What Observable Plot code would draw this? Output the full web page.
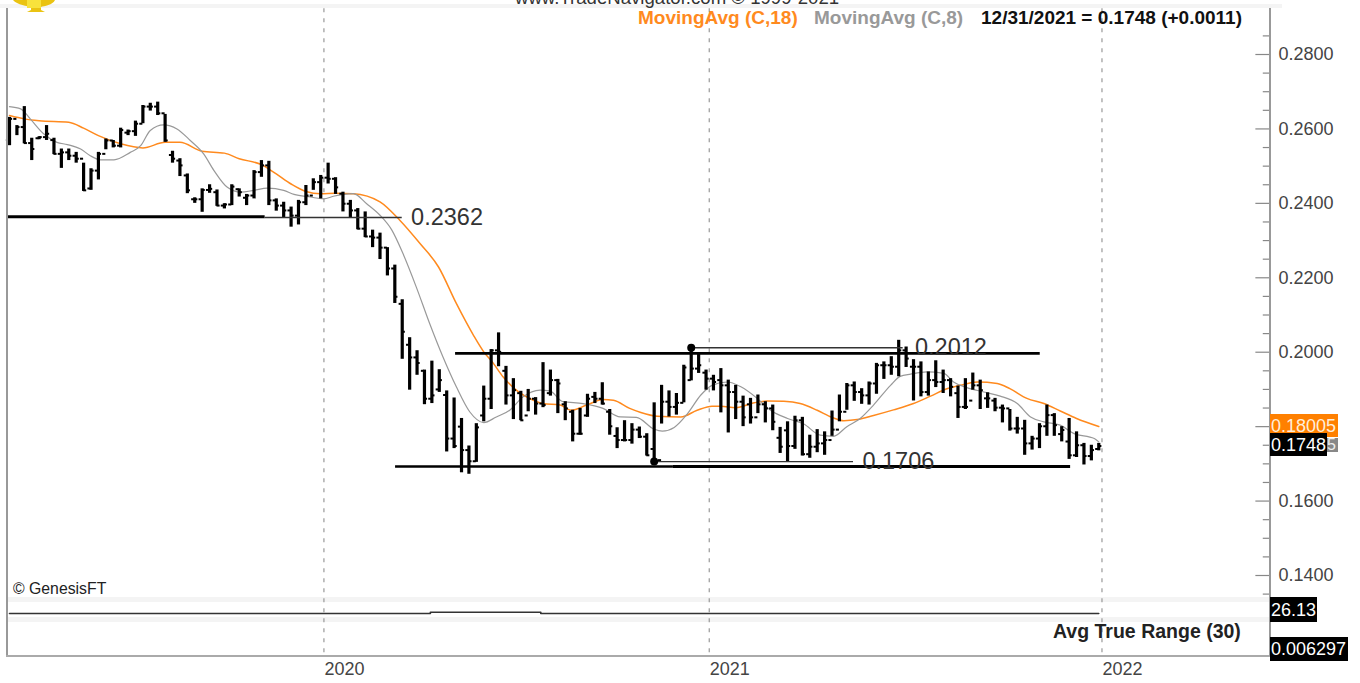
<!DOCTYPE html>
<html><head><meta charset="utf-8">
<script src="https://cdn.jsdelivr.net/npm/d3@7"></script>
<script src="https://cdn.jsdelivr.net/npm/@observablehq/plot@0.6"></script>
<style>
html,body{margin:0;padding:0;background:#fff;overflow:hidden}
#stage{position:relative;width:1360px;height:683px;overflow:hidden;font-family:"Liberation Sans",Arial,sans-serif}
#stage svg{position:absolute;left:0;background:transparent}
.t{position:absolute;white-space:nowrap;line-height:1}
.b{position:absolute}
</style></head><body><div id="stage"></div>
<script>
// Weekly bars, indexed from the first bar on the chart (index 147 = 12/31/2021)
const highs=[.2631,.2609,.2660,.2575,.2579,.2609,.2575,.2546,.2546,.2537,.2508,.2493,.2537,.2573,.2569,.2602,.2597,.2621,.2663,.2669,.2672,.2639,.2540,.2520,.2479,.2415,.2439,.2450,.2436,.2399,.2450,.2439,.2424,.2488,.2515,.2513,.2412,.2403,.2390,.2408,.2448,.2466,.2475,.2508,.2469,
.2430,.2408,.2386,.2377,.2328,.2320,.2281,.2234,.2141,.2039,.2004,.1952,.1976,.1953,.1896,.1877,.1822,.1748,.1808,.1909,.2007,.2052,.1962,.1929,.1895,.1900,.1878,.1972,.1952,.1927,.1867,.1844,.1849,.1887,.1892,.1918,.1846,.1797,.1816,.1808,.1799,.1781,.1864,
.1911,.1896,.1889,.1965,.2012,.1995,.1952,.1938,.1956,.1925,.1911,.1882,.1876,.1885,.1867,.1858,.1798,.1813,.1828,.1825,.1777,.1792,.1786,.1842,.1885,.1916,.1920,.1902,.1920,.1970,
.1974,.1988,.2032,.2014,.1980,.1974,.1947,.1977,.1952,.1929,.1909,.1929,.1944,.1925,.1891,.1876,.1858,.1846,.1825,.1817,.1774,.1808,.1858,.1835,.1800,.1822,.1786,.1755,.1750,.1755];
const lows=[.2555,.2582,.2560,.2515,.2571,.2569,.2531,.2494,.2515,.2508,.2432,.2435,.2463,.2544,.2549,.2549,.2582,.2580,.2614,.2648,.2636,.2564,.2508,.2472,.2426,.2400,.2376,.2427,.2392,.2385,.2394,.2417,.2394,.2412,.2470,.2394,.2379,.2361,.2336,.2342,.2394,.2435,.2412,.2452,.2424,
.2377,.2361,.2329,.2308,.2281,.2249,.2205,.2131,.1981,.1898,.1938,.1859,.1862,.1892,.1732,.1741,.1676,.1672,.1704,.1813,.1846,.1961,.1858,.1819,.1816,.1840,.1831,.1851,.1882,.1835,.1816,.1759,.1777,.1825,.1862,.1858,.1777,.1741,.1759,.1753,.1768,.1721,.1701,
.1807,.1826,.1831,.1864,.1923,.1943,.1898,.1896,.1837,.1783,.1819,.1800,.1807,.1835,.1810,.1789,.1728,.1706,.1739,.1721,.1715,.1730,.1723,.1774,.1813,.1844,.1868,.1860,.1858,.1887,
.1927,.1938,.1934,.1959,.1869,.1880,.1882,.1905,.1889,.1880,.1822,.1846,.1898,.1846,.1849,.1840,.1810,.1788,.1780,.1723,.1737,.1741,.1774,.1774,.1759,.1712,.1717,.1697,.1708,.1735];
const closes=[.2627,.2605,.2562,.2546,.2578,.2587,.2533,.2537,.2528,.2520,.2435,.2488,.2533,.2569,.2555,.2597,.2594,.2614,.2660,.2660,.2642,.2569,.2520,.2502,.2435,.2411,.2436,.2439,.2394,.2397,.2445,.2430,.2421,.2484,.2502,.2408,.2394,.2381,.2367,.2403,.2421,.2457,.2469,.2466,.2443,
.2399,.2381,.2332,.2311,.2308,.2281,.2225,.2149,.2055,.1986,.1971,.1875,.1884,.1925,.1768,.1748,.1737,.1707,.1798,.1875,.2005,.2001,.1884,.1898,.1817,.1875,.1862,.1858,.1925,.1916,.1849,.1781,.1781,.1875,.1875,.1862,.1801,.1764,.1764,.1792,.1773,.1723,.1710,
.1867,.1853,.1864,.1959,.1956,.1965,.1929,.1920,.1911,.1893,.1867,.1825,.1825,.1860,.1849,.1813,.1746,.1748,.1817,.1726,.1746,.1755,.1764,.1792,.1840,.1911,.1893,.1884,.1916,.1965,
.1965,.1961,.2005,.1983,.1961,.1893,.1925,.1920,.1925,.1907,.1853,.1853,.1911,.1898,.1876,.1851,.1849,.1795,.1795,.1755,.1768,.1801,.1831,.1804,.1791,.1723,.1750,.1721,.1737,.1748];
const opens=[.2570,.2627,.2605,.2562,.2575,.2578,.2570,.2533,.2537,.2528,.2520,.2440,.2488,.2533,.2569,.2555,.2590,.2594,.2614,.2660,.2660,.2642,.2530,.2515,.2475,.2411,.2411,.2436,.2430,.2394,.2397,.2438,.2415,.2421,.2484,.2502,.2408,.2394,.2381,.2367,.2403,.2421,.2457,.2469,.2466,
.2426,.2399,.2381,.2332,.2311,.2308,.2281,.2225,.2130,.2020,.1986,.1950,.1875,.1900,.1885,.1768,.1800,.1737,.1707,.1830,.1875,.2005,.1950,.1884,.1890,.1830,.1875,.1862,.1890,.1925,.1860,.1840,.1781,.1830,.1880,.1875,.1840,.1775,.1764,.1764,.1792,.1773,.1740,
.1710,.1867,.1853,.1864,.1925,.1956,.1945,.1929,.1925,.1911,.1893,.1867,.1860,.1825,.1860,.1849,.1770,.1790,.1748,.1817,.1726,.1746,.1755,.1764,.1792,.1840,.1911,.1893,.1884,.1916,
.1965,.1965,.1961,.2005,.1961,.1961,.1893,.1925,.1920,.1925,.1890,.1853,.1870,.1911,.1876,.1870,.1851,.1849,.1795,.1795,.1755,.1768,.1801,.1831,.1780,.1760,.1723,.1750,.1721,.1740];

const ma18Idx=[0,2,4,8,10,12,15,18,21,23,26,29,31,34,36,38,40,42,44,46.4,50,52.7,55.4,57.9,60.3,62.6,64,65.3,66.6,68.4,70.7,72,74.3,75.8,77.9,80.1,81.5,83.7,85.2,87.4,90.6,92.8,94.8,96,98,100.5,102.2,104.5,106.7,109,111,112.6,114.4,116.6,119.3,122,124.3,126.5,128.3,130.6,133.3,135,137.3,139.6,141.8,144,147];
const ma18Val=[.2636,.2627,.2622,.2618,.2602,.2582,.2560,.2549,.2564,.2564,.2540,.2535,.2520,.2504,.2479,.2452,.2432,.2426,.2427,.2426,.2404,.2354,.2292,.2229,.2131,.2046,.2001,.1970,.1934,.1898,.1871,.1862,.1858,.1844,.1858,.1873,.1871,.1849,.1838,.1828,.1826,.1844,.1855,.1855,.1851,.1864,.1869,.1868,.1862,.1844,.1825,.1816,.1819,.1830,.1845,.1862,.1882,.1902,.1911,.1920,.1916,.1902,.1876,.1862,.1842,.1822,.18005];
const ma8Idx=[0,1.5,2.8,4.6,6.4,7.8,9.6,10.9,12.3,14.1,16.3,17.7,19,20.8,22.6,24.4,26.2,27.6,29.4,31.2,33,34.8,37,38.4,40.6,42.4,43.7,46.4,48.2,50,51.6,53.1,54.9,56.7,58.5,60.3,62.1,64,65.7,67.5,69.3,71.6,72.9,74.7,77.4,80.1,82.4,84.6,87,88.1,89.7,91.5,93.3,94.8,96.9,98.7,100.9,102.7,105,107.2,109.4,111.2,113,114.8,116.6,118.9,120.2,121.6,123.8,126.1,127.4,129.2,131.5,133.7,136,137.8,139.6,141.8,143.6,146.4,147];
const ma8Val=[.2660,.2654,.2627,.2587,.2564,.2558,.2546,.2528,.2517,.2517,.2537,.2555,.2596,.2611,.2600,.2569,.2533,.2488,.2443,.2430,.2435,.2441,.2435,.2424,.2417,.2412,.2419,.2426,.2399,.2368,.2328,.2265,.2175,.2077,.1987,.1907,.1840,.1811,.1826,.1844,.1880,.1898,.1896,.1867,.1862,.1849,.1826,.1825,.1793,.1788,.1798,.1835,.1885,.1911,.1920,.1907,.1876,.1844,.1822,.1807,.1777,.1774,.1800,.1822,.1858,.1911,.1935,.1941,.1947,.1943,.1920,.1905,.1893,.1882,.1862,.1826,.1813,.1804,.1782,.1768,.1759];

// Drawn support / resistance lines: [x index start, x index end, price, line width]
const levelLines=[
  [-0.4,34.5,.2364,2.8],[34.5,53,.2362,1.4],
  [60.2,139.1,.1997,2.8],[92,120.6,.2012,1.4],
  [52.1,89.6,.1693,2.6],[89.6,143.2,.1693,3],[87,113.9,.1706,1.4]
];
const levelLabels=[["0.2362",54.2,.2362],["0.2012",122.2,.2013],["0.1706",115.1,.1707]];
const anchorDots=[[87,.1706],[92,.2012]];

const yearBreaks=[42.5,94.5,147.5];
const yearLabels=["2020","2021","2022"];
const majorPrices=[.14,.16,.18,.20,.22,.24,.26,.28];
const labelledPrices=[.14,.16,.20,.22,.24,.26,.28]; // 0.1800 sits behind the orange tag
const minorPrices=[.135,.145,.15,.155,.165,.17,.175,.185,.19,.195,.205,.21,.215,.225,.23,.235,.245,.25,.255,.265,.27,.275,.285];

// Avg True Range strip
const atrIdx=[0,56.8,56.8,71.7,71.7,147];
const atrVal=[.0063,.0063,3.5,3.5,.0063,.0063];

const bars=highs.map((h,i)=>({i,h,l:lows[i],c:closes[i],o:opens[i]}));
const toXY=(xs,ys)=>xs.map((x,k)=>({x,y:ys[k]}));
const xScale={type:"linear",domain:[0,147],range:[9,1098.27]};
const INK="#444";

const main=Plot.plot({
  width:1360,height:683,marginLeft:6,marginRight:90,marginTop:8,marginBottom:27,
  style:{background:"transparent",fontFamily:'"Liberation Sans",Arial,sans-serif'},
  x:xScale,
  y:{type:"linear",domain:[.14,.28],range:[575,54]},
  marks:[
    Plot.ruleX(yearBreaks,{dx:-.5,y1:.2923,y2:.1185,stroke:"#999",strokeWidth:1.2,strokeDasharray:"4,6"}),
    Plot.ruleY(majorPrices,{x1:168.2,x2:170.1,stroke:"#888",strokeWidth:1.2}),
    Plot.ruleY(minorPrices,{x1:169.2,x2:170.1,stroke:"#888",strokeWidth:1.2}),
    Plot.line(toXY(ma18Idx,ma18Val),{x:"x",y:"y",stroke:"#ff8a1e",strokeWidth:1.5,curve:"monotone-x"}),
    Plot.line(toXY(ma8Idx,ma8Val),{x:"x",y:"y",stroke:"#999",strokeWidth:1.2,curve:"monotone-x"}),
    Plot.ruleX(bars,{x:"i",y1:"l",y2:"h",stroke:"#000",strokeWidth:3.2}),
    Plot.ruleY(bars,{y:"c",x1:"i",x2:d=>d.i+.42,stroke:"#000",strokeWidth:2}),
    Plot.ruleY(bars,{y:"o",x1:d=>d.i-.42,x2:"i",stroke:"#000",strokeWidth:2}),
    ...levelLines.map(([a,b,p,w])=>Plot.ruleY([p],{x1:a,x2:b,stroke:w>2?"#000":"#333",strokeWidth:w})),
    Plot.dot(anchorDots,{x:d=>d[0],y:d=>d[1],r:4,fill:"#000"}),
    Plot.text(levelLabels,{x:d=>d[1],y:d=>d[2],text:d=>d[0],textAnchor:"start",fontSize:23.5,fill:"#333"}),
    Plot.axisX({ticks:yearBreaks,tickFormat:d=>yearLabels[yearBreaks.indexOf(d)],label:null,tickSize:0,tickPadding:6,textAnchor:"start",fontSize:18,fill:"#444"}),
    Plot.axisY({anchor:"right",ticks:labelledPrices,tickFormat:d3.format(".4f"),label:null,tickSize:0,tickPadding:8,textAnchor:"start",fontSize:18,fill:INK})
  ]
});
main.style.top="0px";

const atr=Plot.plot({
  width:1360,height:15,marginLeft:6,marginRight:90,marginTop:0,marginBottom:0,
  style:{background:"transparent"},
  x:{...xScale,axis:null},
  y:{type:"linear",domain:[0,26.13],range:[11,2],axis:null},
  marks:[Plot.line(toXY(atrIdx,atrVal),{x:"x",y:"y",stroke:"#333",strokeWidth:1.6})]
});
atr.style.top="602px";

const stage=document.getElementById("stage");
function box(l,t,w,h,c){const d=document.createElement("div");d.className="b";d.style.cssText+=`left:${l}px;top:${t}px;width:${w}px;height:${h}px;background:${c}`;stage.appendChild(d);}
function txt(s,l,t,css){const d=document.createElement("div");d.className="t";d.textContent=s;d.style.cssText+=`left:${l}px;top:${t}px;`+css;stage.appendChild(d);}

// bands and frame
box(0,4,1282,4,"#f4f4f4");
box(7,597,1262,5,"#f4f4f4");
box(7,617,1262,5,"#f4f4f4");
stage.appendChild(main);stage.appendChild(atr);
box(6,8,1.5,648,"#999");
box(6,655,1264,2.2,"#aaa");
box(1268.5,8,2.5,648,"#999");

// trophy
const tr=document.createElement("div");
tr.innerHTML='<svg width="60" height="14" style="left:8px;top:0"><path d="M5 0H47C45 5 36 6 33 7L33 10L37 12H19L23 10L23 7C20 6 9 5 5 0Z" fill="#eac312"/><rect x="19" y="0" width="14" height="8" fill="#f8e23c"/></svg>';
stage.appendChild(tr);

// header
txt("www.TradeNavigator.com © 1999-2021",515,-11,'font-size:18.6px;color:#333');
const hf='font-size:19px;font-weight:bold;';
txt("MovingAvg (C,18)",638,8,hf+'color:#ff8a1e');
txt("MovingAvg (C,8)",814,8,hf+'color:#999');
txt("12/31/2021 = 0.1748 (+0.0011)",981,8,hf+'color:#111');
txt("© GenesisFT",13,581,'font-size:15.8px;color:#222');
txt("Avg True Range (30)",1053,622,'font-size:19.5px;font-weight:bold;color:#222');

// value tags
function tag(s,l,t,w,h,bg,fg){box(l,t,w,h,bg);txt(s,l+1,t+(h-18)/2,`font-size:18px;color:${fg}`);}
tag("0.18005",1270,414,68,23,"#ff8000","#ffeeda");
box(1327,438,11,14,"#888");txt("5",1327,437,'font-size:16px;color:#eee');
tag("0.1748",1270,433,57,23,"#000","#fff");
tag("26.13",1270,597,47,25,"#000","#fff");
tag("0.006297",1270,637,78,24,"#000","#fff");
</script></body></html>
